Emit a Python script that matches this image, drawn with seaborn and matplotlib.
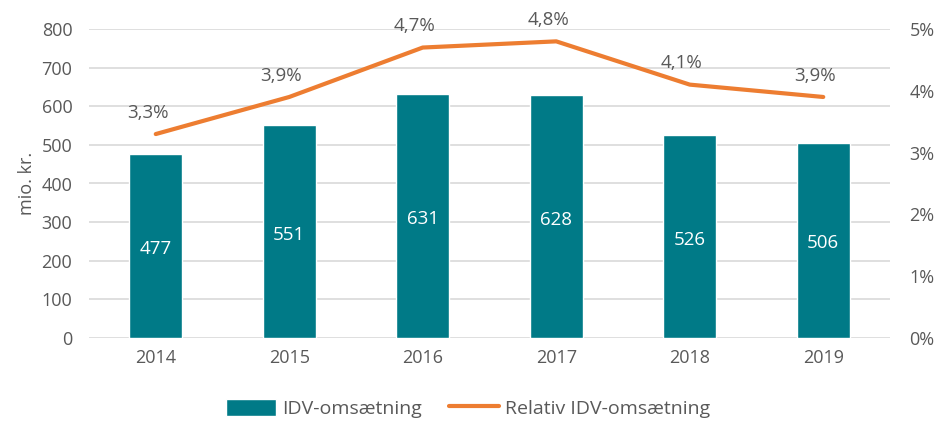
import numpy as np
import pandas as pd
import matplotlib
matplotlib.use("Agg")
import matplotlib.pyplot as plt
import seaborn as sns
from matplotlib.ticker import FuncFormatter

# Data
years = ["2014", "2015", "2016", "2017", "2018", "2019"]
idv = [477, 551, 631, 628, 526, 506]
rel_idv = [3.3, 3.9, 4.7, 4.8, 4.1, 3.9]
rel_labels = ["3,3%", "3,9%", "4,7%", "4,8%", "4,1%", "3,9%"]

teal = "#007A87"
orange = "#ED7D31"
grey = "#595959"

sns.set_style("white")
plt.rcParams["font.family"] = ["Open Sans", "DejaVu Sans"]

df = pd.DataFrame({"År": years, "IDV-omsætning": idv, "Relativ": rel_idv})

fig = plt.figure(figsize=(9.36, 4.23), dpi=100)
ax = fig.add_axes([89 / 936, 1 - 338 / 423, 801 / 936, 309 / 423])

# Bars
sns.barplot(data=df, x="År", y="IDV-omsætning", color=teal, width=0.4,
            saturation=1, ax=ax, zorder=2, label="IDV-omsætning")
ax.set_ylim(0, 800)
ax.set_yticks(range(0, 801, 100))
ax.set_xlim(-0.5, 5.5)
ax.grid(axis="y", color="#D9D9D9", linewidth=1.2, zorder=0)
ax.set_axisbelow(True)
for s in ax.spines.values():
    s.set_visible(False)
ax.set_xlabel("")
ax.set_ylabel("mio. kr.", fontsize=13, color=grey, labelpad=4)
ax.tick_params(axis="both", length=0, labelsize=13, labelcolor=grey, pad=8)
ax.tick_params(axis="y", pad=12)

for i, v in enumerate(idv):
    ax.text(i, v / 2 - 8, str(v), ha="center", va="center", color="white", fontsize=13.5)

# Line on secondary axis
ax2 = ax.twinx()
sns.lineplot(x=np.arange(len(years)), y=rel_idv, color=orange, linewidth=3,
             ax=ax2, label="Relativ IDV-omsætning", legend=False)
ax2.set_ylim(0, 5)
ax2.set_yticks(range(0, 6))
ax2.yaxis.set_major_formatter(FuncFormatter(lambda v, p: f"{int(v)}%"))
ax2.tick_params(axis="y", length=0, labelsize=13, labelcolor=grey, pad=14)
for s in ax2.spines.values():
    s.set_visible(False)
ax2.set_xlim(-0.5, 5.5)

for i, (v, lab) in enumerate(zip(rel_idv, rel_labels)):
    ax2.text(i - 0.06, v + 0.2, lab, ha="center", va="bottom", color=grey, fontsize=13.5)

# Legend
h1, l1 = ax.get_legend_handles_labels()
h2, l2 = ax2.get_legend_handles_labels()
if ax.get_legend():
    ax.get_legend().remove()
fig.legend(h1 + h2, l1 + l2, loc="upper center", bbox_to_anchor=(0.5, 1 - 385 / 423),
           ncol=2, frameon=False, fontsize=14, labelcolor=grey,
           handlelength=2.6, handleheight=1.0, columnspacing=1.4, handletextpad=0.3,
           borderpad=0.2)

fig.savefig("out.png", dpi=100)
